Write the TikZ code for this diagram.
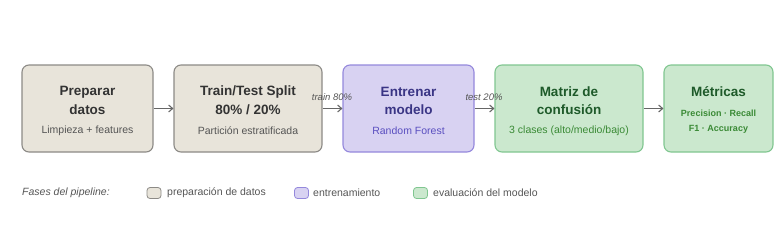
\documentclass[tikz,border=0pt]{standalone}
\usepackage{fontspec}
\setmainfont{Liberation Sans}
\usetikzlibrary{arrows.meta}
\definecolor{prepfill}{HTML}{E8E4DA}
\definecolor{prepdraw}{HTML}{8C8A86}
\definecolor{trainfill}{HTML}{D8D2F2}
\definecolor{traindraw}{HTML}{9488DC}
\definecolor{evalfill}{HTML}{CBE8CE}
\definecolor{evaldraw}{HTML}{80C690}
\definecolor{titlegray}{HTML}{333333}
\definecolor{subgray}{HTML}{555555}
\definecolor{titlepurple}{HTML}{3A3585}
\definecolor{subpurple}{HTML}{5A4FC0}
\definecolor{titlegreen}{HTML}{1E5A2A}
\definecolor{subgreen}{HTML}{3A8A35}
\definecolor{arrowgray}{HTML}{666666}
\tikzset{
  box/.style={draw, rounded corners=7pt, line width=1.1pt, inner sep=0pt},
  prep/.style={box, fill=prepfill, draw=prepdraw},
  trainbox/.style={box, fill=trainfill, draw=traindraw},
  evalbox/.style={box, fill=evalfill, draw=evaldraw},
  ttl/.style={font=\fontsize{13.5}{16}\selectfont\bfseries, inner sep=0pt},
  sub/.style={font=\fontsize{10.5}{12}\selectfont, inner sep=0pt},
  subsm/.style={font=\fontsize{9}{11}\selectfont\bfseries, inner sep=0pt},
  flow/.style={draw=arrowgray, line width=1.1pt, -{Straight Barb[length=4pt,width=7pt]}},
  elab/.style={font=\fontsize{9.5}{11}\selectfont\itshape, text=subgray, inner sep=0pt},
  leg/.style={font=\fontsize{10.5}{12}\selectfont, text=subgray, inner sep=0pt, anchor=west},
  sw/.style={draw, rounded corners=3pt, line width=0.8pt, minimum width=14pt, minimum height=11pt, inner sep=0pt}
}
\begin{document}
\begin{tikzpicture}[x=1pt,y=-1pt]
\useasboundingbox (0,0) rectangle (784,239);
% boxes
\node[prep, minimum width=131pt, minimum height=87pt] (b1) at (87.5,108.5) {};
\node[prep, minimum width=148pt, minimum height=87pt] (b2) at (248,108.5) {};
\node[trainbox, minimum width=131pt, minimum height=87pt] (b3) at (408.5,108.5) {};
\node[evalbox, minimum width=148pt, minimum height=87pt] (b4) at (569,108.5) {};
\node[evalbox, minimum width=109pt, minimum height=87pt] (b5) at (718.5,108.5) {};
% texts box1
\node[ttl, text=titlegray] (t1a) at (87.5,92) {Preparar};
\node[ttl, text=titlegray] (t1b) at (87.5,110) {datos};
\node[sub, text=subgray] (s1) at (87.5,131) {Limpieza + features};
% box2
\node[ttl, text=titlegray] (t2a) at (248,92) {Train/Test Split};
\node[ttl, text=titlegray] (t2b) at (248,110) {80\% / 20\%};
\node[sub, text=subgray] (s2) at (248,131) {Partición estratificada};
% box3
\node[ttl, text=titlepurple] (t3a) at (408.5,92) {Entrenar};
\node[ttl, text=titlepurple] (t3b) at (408.5,110) {modelo};
\node[sub, text=subpurple] (s3) at (408.5,131) {Random Forest};
% box4
\node[ttl, text=titlegreen] (t4a) at (569,92) {Matriz de};
\node[ttl, text=titlegreen] (t4b) at (569,110) {confusión};
\node[sub, text=subgreen] (s4) at (569,131) {3 clases (alto/medio/bajo)};
% box5
\node[ttl, text=titlegreen] (t5a) at (718.5,92) {Métricas};
\node[subsm, text=subgreen] (s5a) at (718.5,113) {Precision · Recall};
\node[subsm, text=subgreen] (s5b) at (718.5,129) {F1 · Accuracy};
% arrows
\draw[flow] (b1) -- (b2);
\draw[flow] (b2) -- (b3);
\draw[flow] (b3) -- (b4);
\draw[flow] (b4) -- (b5);
\node[elab] (l1) at (332,97) {train 80\%};
\node[elab] (l2) at (484,97) {test 20\%};
% legend
\node[leg, font=\fontsize{10.5}{12}\selectfont\itshape] (lt) at (22,193) {Fases del pipeline:};
\node[sw, fill=prepfill, draw=prepdraw] (sw1) at (154,193) {};
\node[leg] (lg1) at (167,193) {preparación de datos};
\node[sw, fill=trainfill, draw=traindraw] (sw2) at (301.5,193) {};
\node[leg] (lg2) at (313,193) {entrenamiento};
\node[sw, fill=evalfill, draw=evaldraw] (sw3) at (420.5,193) {};
\node[leg] (lg3) at (433,193) {evaluación del modelo};
\end{tikzpicture}
\end{document}
